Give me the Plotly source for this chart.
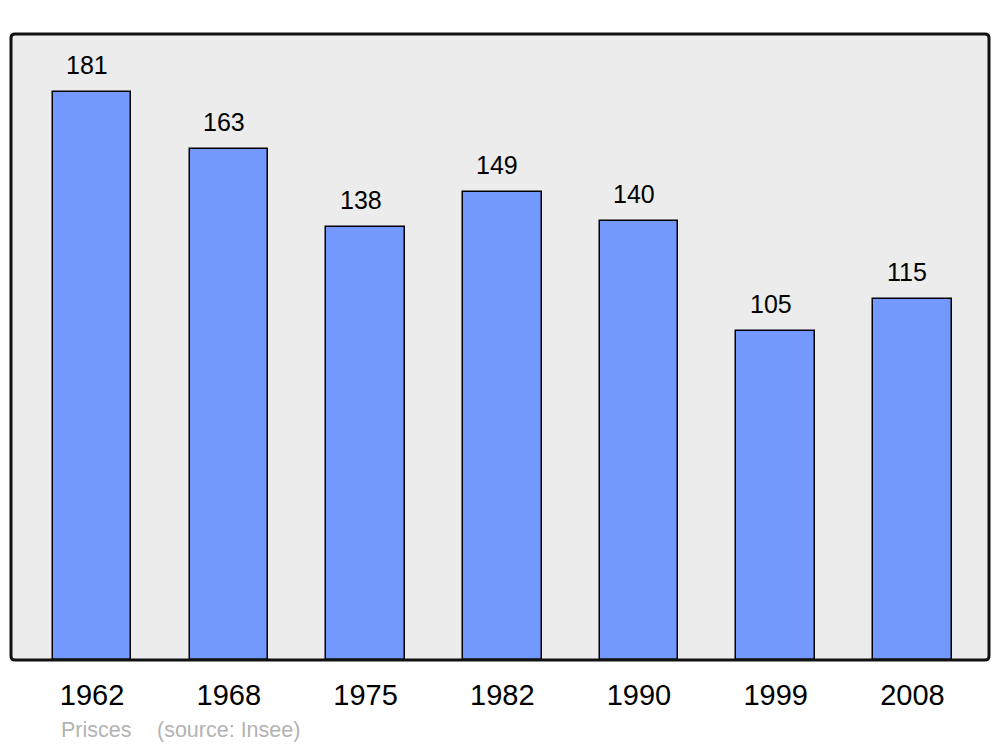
import plotly.graph_objects as go

years = ["1962", "1968", "1975", "1982", "1990", "1999", "2008"]
population = [181, 163, 138, 149, 140, 105, 115]
commune = "Prisces"
source = "(source: Insee)"

W, H = 1000, 747
L, R, T, B = 11, 11, 34, 87
PW, PH = W - L - R, H - T - B

fig = go.Figure()
fig.add_trace(go.Bar(
    x=list(range(len(years))), y=population, width=0.575,
    marker=dict(color="#7399ff", line=dict(color="#000000", width=1.5)),
    hoverinfo="skip",
))

for i, v in enumerate(population):
    fig.add_annotation(x=i, y=v, text=str(v), showarrow=False,
                       xanchor="center", yanchor="bottom", xshift=-5, yshift=11,
                       font=dict(family="Liberation Sans", size=25, color="#000"))


def px_x(p):
    return (p - L) / PW


def px_y(p):
    return (H - B - p) / PH


fig.add_annotation(x=px_x(59), y=px_y(730), xref="paper", yref="paper", text=commune,
                   showarrow=False, xanchor="left", yanchor="middle",
                   font=dict(family="Liberation Sans", size=21.5, color="#b3b3b3"))
fig.add_annotation(x=px_x(155), y=px_y(730), xref="paper", yref="paper", text=source,
                   showarrow=False, xanchor="left", yanchor="middle",
                   font=dict(family="Liberation Sans", size=21.5, color="#b3b3b3"))

# rounded frame around the plot area
r = 4
rx, ry = r / PW, r / PH
frame = (f"M {rx},0 L {1 - rx},0 Q 1,0 1,{ry} L 1,{1 - ry} Q 1,1 {1 - rx},1 "
         f"L {rx},1 Q 0,1 0,{1 - ry} L 0,{ry} Q 0,0 {rx},0 Z")
fig.add_shape(type="path", xref="paper", yref="paper", path=frame,
              line=dict(color="#111111", width=3), layer="above")

fig.update_layout(
    width=W, height=H,
    margin=dict(l=L, r=R, t=T, b=B),
    paper_bgcolor="#ffffff", plot_bgcolor="#ececec",
    showlegend=False, bargap=0,
    font=dict(family="Liberation Sans", color="#000"),
    xaxis=dict(tickmode="array", tickvals=list(range(len(years))), ticktext=years,
               range=[-0.593, 6.56], showgrid=False, zeroline=False,
               ticks="outside", ticklen=9, tickcolor="rgba(0,0,0,0)",
               tickfont=dict(family="Liberation Sans", size=29, color="#000")),
    yaxis=dict(range=[0, 199.5], showgrid=False, zeroline=False,
               showticklabels=False, ticks=""),
)

fig.write_html("out.html", config={"displayModeBar": False},
               post_script="document.body.style.margin='0';document.body.style.padding='0';")
